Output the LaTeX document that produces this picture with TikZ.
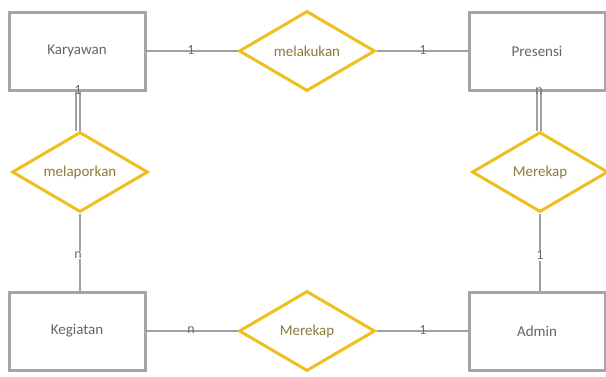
\documentclass[tikz,border=0pt]{standalone}
\usepackage{fontspec}
\setmainfont{Carlito}
\usetikzlibrary{shapes.geometric}
\definecolor{boxgray}{RGB}{165,165,165}
\definecolor{linegray}{RGB}{160,160,160}
\definecolor{gold}{RGB}{240,190,30}
\definecolor{entitytext}{RGB}{100,100,100}
\definecolor{reltext}{RGB}{140,122,58}
\definecolor{cardtext}{RGB}{110,110,110}
\begin{document}
\begin{tikzpicture}[x=1pt,y=-1pt,
  entity/.style={draw=boxgray,line width=3pt,rectangle,minimum width=136pt,minimum height=78pt,inner sep=0pt,text=entitytext,font=\fontsize{15}{17}\selectfont},
  rel/.style={draw=gold,line width=3pt,diamond,aspect=1.7,minimum width=136pt,minimum height=80pt,inner sep=0pt,text=reltext,font=\fontsize{15}{17}\selectfont},
  conn/.style={draw=linegray,line width=1.2pt},
  card/.style={text=cardtext,font=\fontsize{14}{16}\selectfont,inner sep=1pt},
  cardw/.style={card,fill=white}]
\useasboundingbox (0,0) rectangle (606,376);
\node[entity] (kary) at (77,51) {Karyawan};
\node[entity] (pres) at (537,51) {Presensi};
\node[entity] (keg) at (77,331) {Kegiatan};
\node[entity] (adm) at (537,331) {Admin};
\node[rel] (melak) at (307,51) {melakukan};
\node[rel] (melap) at (80,172) {melaporkan};
\node[rel] (rek1) at (540,172) {Merekap};
\node[rel] (rek2) at (307,331) {Merekap};
% top horizontal
\draw[conn] (kary.east) -- (melak.west);
\draw[conn] (melak.east) -- (pres.west);
\node[card] (c1) at (191,50) {1};
\node[card] (c2) at (423,50) {1};
% bottom horizontal
\draw[conn] (keg.east) -- (rek2.west);
\draw[conn] (rek2.east) -- (adm.west);
\node[card] (c3) at (191,330) {n};
\node[card] (c4) at (423,330) {1};
% left vertical
\coordinate (kb) at (78,91);
\draw[conn] ([xshift=-2pt]kb) -- ([xshift=-2pt]kb |- melap.north);
\draw[conn] ([xshift=2pt]kb) -- ([xshift=2pt]kb |- melap.north);
\node[card] (c5) at (78,90) {1};
\draw[conn] (melap.south) -- (melap.south |- keg.north);
\node[cardw] (c6) at (78,255) {n};
% right vertical
\coordinate (pb) at (539,91);
\draw[conn] ([xshift=-2pt]pb) -- ([xshift=-2pt]pb |- rek1.north);
\draw[conn] ([xshift=2pt]pb) -- ([xshift=2pt]pb |- rek1.north);
\node[card] (c7) at (539,91) {n};
\draw[conn] (rek1.south) -- (rek1.south |- adm.north);
\node[cardw] (c8) at (540,255) {1};
\end{tikzpicture}
\end{document}
